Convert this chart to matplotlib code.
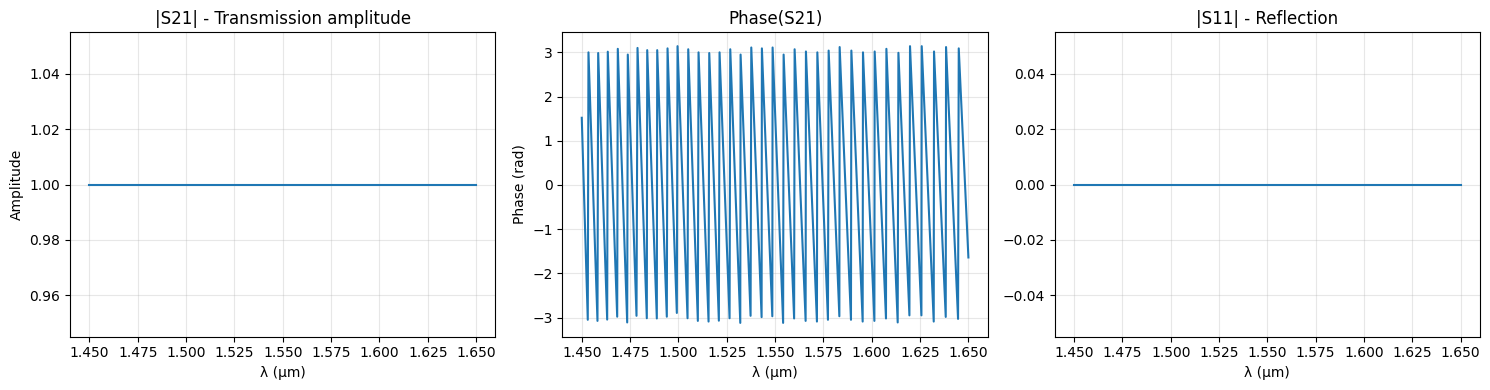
import numpy as np
import matplotlib
matplotlib.use("Agg")
import matplotlib.pyplot as plt

# |S21| and |S11| (flat across band)
wl_span = [1.45, 1.65]
s21_amp = [1.0, 1.0]
s11_amp = [0.0, 0.0]

# Phase(S21): wrapped sawtooth, vertices
phase_start = (1.45, 1.52)
phase_end = (1.65, -1.64)

trough_wl = [1.45311, 1.45813, 1.46315, 1.46833, 1.47350, 1.47832, 1.48365, 1.48883,
             1.49400, 1.49918, 1.50472, 1.51005, 1.51559, 1.52092, 1.52646, 1.53200,
             1.53733, 1.54303, 1.54857, 1.55416, 1.55985, 1.56580, 1.57165, 1.57735,
             1.58325, 1.58926, 1.59531, 1.60137, 1.60737, 1.61343, 1.61949, 1.62570,
             1.63207, 1.63828, 1.64465]
trough_val = [-3.05, -3.075, -3.045, -2.98, -3.11, -2.96, -3.015, -3.02,
              -2.98, -2.895, -3.015, -3.075, -3.09, -3.07, -3.015, -3.12,
              -2.96, -2.99, -2.97, -3.12, -3.02, -3.075, -3.09, -3.05,
              -2.97, -3.05, -3.09, -3.075, -3.02, -3.11, -2.95, -2.95,
              -3.09, -2.985, -3.03]
peak_wl = [1.45347, 1.45849, 1.46346, 1.46864, 1.47381, 1.47884, 1.48386, 1.48903,
           1.49437, 1.49954, 1.50508, 1.51041, 1.51595, 1.52128, 1.52682, 1.53216,
           1.53769, 1.54318, 1.54872, 1.55442, 1.56011, 1.56596, 1.57186, 1.57771,
           1.58341, 1.58946, 1.59547, 1.60152, 1.60758, 1.61380, 1.61980, 1.62586,
           1.63222, 1.63844, 1.64501]
peak_val = [3.00, 2.985, 3.015, 3.08, 2.95, 3.10, 3.05, 3.05,
            3.09, 3.14, 3.07, 3.00, 2.985, 3.00, 3.07, 2.95,
            3.11, 3.09, 3.11, 2.95, 3.07, 3.02, 3.00, 3.04,
            3.12, 3.04, 3.00, 3.02, 3.08, 2.99, 3.14, 3.14,
            3.02, 3.12, 3.09]

ph_wl = [phase_start[0]]
ph_val = [phase_start[1]]
for tw, tv, pw, pv in zip(trough_wl, trough_val, peak_wl, peak_val):
    ph_wl += [tw, pw]
    ph_val += [tv, pv]
ph_wl.append(phase_end[0])
ph_val.append(phase_end[1])

fig, axes = plt.subplots(1, 3, figsize=(15, 4), dpi=100)

ax = axes[0]
ax.plot(wl_span, s21_amp)
ax.set_title("|S21| - Transmission amplitude")
ax.set_xlabel("λ (µm)")
ax.set_ylabel("Amplitude")
ax.grid(True, alpha=0.3)

ax = axes[1]
ax.plot(ph_wl, ph_val)
ax.set_title("Phase(S21)")
ax.set_xlabel("λ (µm)")
ax.set_ylabel("Phase (rad)")
ax.grid(True, alpha=0.3)

ax = axes[2]
ax.plot(wl_span, s11_amp)
ax.set_title("|S11| - Reflection")
ax.set_xlabel("λ (µm)")
ax.grid(True, alpha=0.3)

fig.tight_layout()
fig.savefig("out.png", dpi=100, bbox_inches="tight")
